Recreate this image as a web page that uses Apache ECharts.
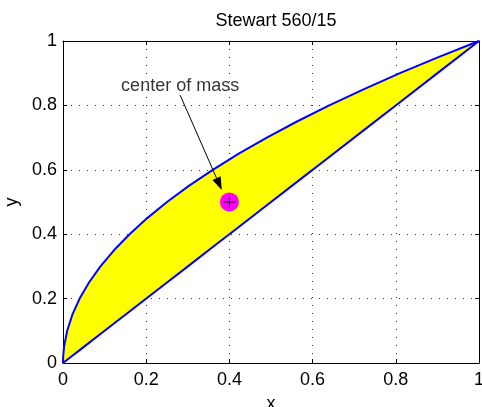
<!DOCTYPE html>
<html>
<head>
<meta charset="utf-8">
<script src="https://cdn.jsdelivr.net/npm/echarts@6/dist/echarts.min.js"></script>
<style>html,body{margin:0;padding:0;background:#fff;}#c{width:482px;height:407px;}</style>
</head>
<body>
<div id="c"></div>
<script>
// sample x positions
var xs = [0, 0.0004, 0.0025, 0.01, 0.0225, 0.04, 0.0625, 0.09, 0.1225, 0.16, 0.2025, 0.25, 0.3025, 0.36, 0.4225, 0.49, 0.5625, 0.64, 0.7225, 0.81, 0.9025, 1];
// upper curve values
var upperY = [0, 0.02, 0.05, 0.10, 0.15, 0.20, 0.25, 0.30, 0.35, 0.40, 0.45, 0.50, 0.55, 0.60, 0.65, 0.70, 0.75, 0.80, 0.85, 0.90, 0.95, 1];
// lower line values
var lowerY = [0, 0.0004, 0.0025, 0.01, 0.0225, 0.04, 0.0625, 0.09, 0.1225, 0.16, 0.2025, 0.25, 0.3025, 0.36, 0.4225, 0.49, 0.5625, 0.64, 0.7225, 0.81, 0.9025, 1];
var centerOfMass = [0.4, 0.5];
var labelPos = [0.2816, 0.861];
var arrowStart = [0.2816, 0.832];
var arrowEnd = [0.3817, 0.537];
var tickLabels = ['0', '0.2', '0.4', '0.6', '0.8', '1'];
var titleText = 'Stewart 560/15';

var upperData = xs.map(function (x, i) { return [x, upperY[i]]; });
var lowerData = xs.map(function (x, i) { return [x, lowerY[i]]; });

var font = 'Liberation Sans, Arial, Helvetica, sans-serif';
var fs = 18;
var gridLine = { show: true, lineStyle: { color: '#333', width: 1, type: [1, 7] } };

function axisCommon(pos) {
  return {
    type: 'value', min: 0, max: 1, interval: 0.2, position: pos,
    axisLine: { show: true, onZero: false, lineStyle: { color: '#000', width: 1 } },
    axisTick: { show: true, inside: true, length: 4, lineStyle: { color: '#000' } }
  };
}

var chart = echarts.init(document.getElementById('c'));
var xa0 = axisCommon('bottom');
Object.assign(xa0, {
  name: 'x', nameLocation: 'middle', nameGap: 32,
  nameTextStyle: { fontFamily: font, fontSize: fs, color: '#000' },
  axisLabel: { fontFamily: font, fontSize: fs, color: '#000', margin: 8,
    formatter: function (v) { return tickLabels[Math.round(v * 5)]; } },
  splitLine: gridLine
});
var xa1 = axisCommon('top');
Object.assign(xa1, { axisLabel: { show: false }, splitLine: { show: false } });
var ya0 = axisCommon('left');
Object.assign(ya0, {
  name: 'y', nameLocation: 'middle', nameGap: 39,
  nameTextStyle: { fontFamily: font, fontSize: fs, color: '#000' },
  axisLabel: { fontFamily: font, fontSize: fs, color: '#000', margin: 6,
    formatter: function (v) { return tickLabels[Math.round(v * 5)]; } },
  splitLine: gridLine
});
var ya1 = axisCommon('right');
Object.assign(ya1, { axisLabel: { show: false }, splitLine: { show: false } });

chart.setOption({
  animation: false,
  backgroundColor: '#fff',
  textStyle: { fontFamily: font },
  title: {
    text: titleText, left: 271, top: 7, textAlign: 'center',
    textStyle: { fontFamily: font, fontSize: fs, fontWeight: 'normal', color: '#000' }
  },
  grid: { left: 63, right: 3, top: 41, bottom: 44, show: false, containLabel: false, outerBoundsMode: 'none' },
  xAxis: [xa0, xa1],
  yAxis: [ya0, ya1],
  series: [{
    type: 'custom', data: [[0, 0]], silent: true, z: 1,
    renderItem: function (params, api) {
      var pts = [];
      for (var i = 0; i < xs.length; i++) pts.push(api.coord([xs[i], upperY[i]]));
      for (var j = xs.length - 1; j >= 0; j--) pts.push(api.coord([xs[j], lowerY[j]]));
      return { type: 'polygon', shape: { points: pts }, style: { fill: '#ffff00', stroke: null } };
    }
  }, {
    type: 'line', data: upperData, showSymbol: false, symbol: 'none', smooth: false,
    lineStyle: { color: '#0000ff', width: 2 }, z: 3, silent: true
  }, {
    type: 'line', data: lowerData, showSymbol: false, symbol: 'none',
    lineStyle: { color: '#0000ff', width: 2 }, z: 3, silent: true
  }, {
    type: 'scatter', data: [centerOfMass], symbol: 'circle', symbolSize: 19,
    itemStyle: { color: '#ff00ff', opacity: 1 }, z: 5, silent: true
  }, {
    type: 'scatter', data: [centerOfMass], symbol: 'path://M6,0L6,12M0,6L12,6', symbolSize: 12,
    itemStyle: { color: 'none', borderColor: '#000', borderWidth: 1, opacity: 1 }, z: 6, silent: true
  }, {
    type: 'scatter', data: [labelPos], symbol: 'circle', symbolSize: 1,
    itemStyle: { color: 'rgba(0,0,0,0)' }, silent: true, z: 7,
    label: { show: true, position: 'inside', formatter: 'center of mass',
      fontFamily: font, fontSize: fs, color: '#000', textBorderWidth: 0 }
  }, {
    type: 'custom', data: [[0, 0]], silent: true, z: 7,
    renderItem: function (params, api) {
      var a = api.coord(arrowStart), b = api.coord(arrowEnd);
      var dx = b[0] - a[0], dy = b[1] - a[1];
      var L = Math.sqrt(dx * dx + dy * dy);
      var ux = dx / L, uy = dy / L, px = -uy, py = ux;
      var hl = 13, hw = 4.5;
      var base = [b[0] - ux * hl, b[1] - uy * hl];
      return { type: 'group', children: [
        { type: 'line', shape: { x1: a[0], y1: a[1], x2: base[0], y2: base[1] },
          style: { stroke: '#000', lineWidth: 1 } },
        { type: 'polygon', shape: { points: [b, [base[0] + px * hw, base[1] + py * hw],
          [base[0] - px * hw, base[1] - py * hw]] }, style: { fill: '#000' } }
      ] };
    }
  }]
});
</script>
</body>
</html>
